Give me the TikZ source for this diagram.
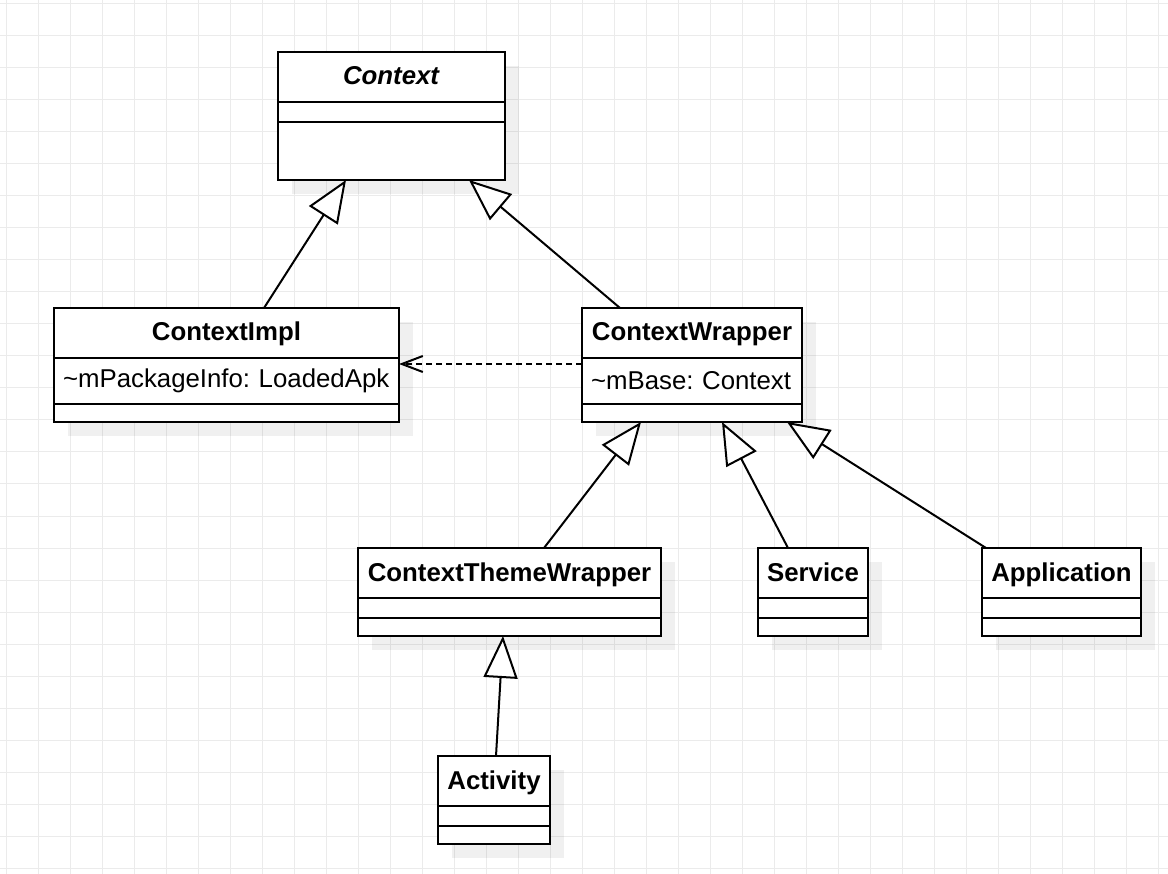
\documentclass[tikz,border=0pt]{standalone}
\usepackage{fontspec}
\setmainfont{Liberation Sans}
\usetikzlibrary{positioning,arrows.meta,shadows}

\begin{document}
\begin{tikzpicture}[
  x=1pt,y=-1pt,
  font=\fontsize{25.8pt}{30pt}\selectfont\frenchspacing,
  gridline/.style={black!8,line width=1pt},
  umlbox/.style={draw,line width=2pt,fill=white,outer sep=0pt,inner sep=0pt,minimum width=#1,
    general shadow={fill=black,opacity=.06,shadow xshift=14pt,shadow yshift=-14pt}},
  umlhead/.style={umlbox=#1,minimum height=50pt,text height=20pt,text depth=4pt,
    font=\fontsize{25.8pt}{30pt}\selectfont\bfseries},
  umlslot/.style={umlbox=#1,inner xsep=9pt,text width=#1-18pt,align=left},
  inherit/.style={line width=2pt,-{Triangle[open,fill=white,length=42pt,width=34pt]}},
  usedep/.style={line width=2pt,dash pattern=on 6pt off 4pt,-{Straight Barb[length=21pt,width=16pt]}}
]
  \useasboundingbox (0,0) rectangle (1168,874);
  \foreach \gx in {6,38,...,1158} \draw[gridline] (\gx,0) -- (\gx,874);
  \foreach \gy in {4,36,...,868} \draw[gridline] (0,\gy) -- (1168,\gy);

  \node[umlhead=227pt] (ctx) at (391.5,77) {\textit{Context}};
  \node[umlbox=227pt,minimum height=20pt,below=0pt of ctx] (ctx-a) {};
  \node[umlbox=227pt,minimum height=58pt,below=0pt of ctx-a] (ctx-o) {};

  \node[umlhead=345pt] (impl) at (226.5,333) {ContextImpl};
  \node[umlslot=345pt,minimum height=46pt,below=0pt of impl] (impl-a) {\textasciitilde mPackageInfo: LoadedApk};
  \node[umlbox=345pt,minimum height=18pt,below=0pt of impl-a] (impl-o) {};

  \node[umlhead=220pt] (wrap) at (692,333) {ContextWrapper};
  \node[umlslot=220pt,minimum height=46pt,below=0pt of wrap] (wrap-a) {\textasciitilde mBase: Context};
  \node[umlbox=220pt,minimum height=18pt,below=0pt of wrap-a] (wrap-o) {};

  \node[umlhead=303pt] (theme) at (509.5,573) {ContextThemeWrapper};
  \node[umlbox=303pt,minimum height=20pt,below=0pt of theme] (theme-a) {};
  \node[umlbox=303pt,minimum height=18pt,below=0pt of theme-a] (theme-o) {};

  \node[umlhead=110pt] (svc) at (813,573) {Service};
  \node[umlbox=110pt,minimum height=20pt,below=0pt of svc] (svc-a) {};
  \node[umlbox=110pt,minimum height=18pt,below=0pt of svc-a] (svc-o) {};

  \node[umlhead=159pt] (app) at (1061.5,573) {Application};
  \node[umlbox=159pt,minimum height=20pt,below=0pt of app] (app-a) {};
  \node[umlbox=159pt,minimum height=18pt,below=0pt of app-a] (app-o) {};

  \node[umlhead=112pt] (act) at (494,781) {Activity};
  \node[umlbox=112pt,minimum height=20pt,below=0pt of act] (act-a) {};
  \node[umlbox=112pt,minimum height=18pt,below=0pt of act-a] (act-o) {};

  \draw[inherit] ([xshift=37.5pt]impl.north) -- ([xshift=-45.5pt]ctx-o.south);
  \draw[inherit] ([xshift=-72pt]wrap.north) -- ([xshift=77.5pt]ctx-o.south);
  \draw[inherit] ([xshift=34.5pt]theme.north) -- ([xshift=-51pt]wrap-o.south);
  \draw[inherit] ([xshift=-25pt]svc.north) -- ([xshift=30pt]wrap-o.south);
  \draw[inherit] ([xshift=-75.5pt]app.north) -- ([xshift=95pt]wrap-o.south);
  \draw[inherit] ([xshift=2pt]act.north) -- ([xshift=-6.5pt]theme-o.south);
  \draw[usedep] ([yshift=17pt]wrap-a.west) -- ([yshift=17pt]impl-a.east);
\end{tikzpicture}
\end{document}
